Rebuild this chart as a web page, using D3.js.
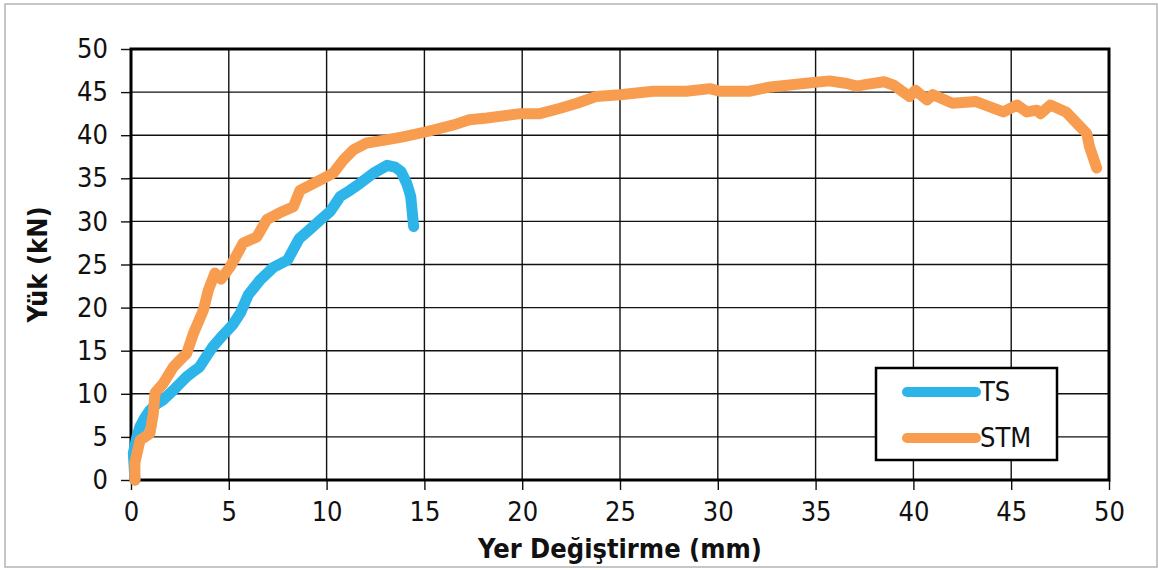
<!DOCTYPE html>
<html>
<head>
<meta charset="utf-8">
<script src="https://cdn.jsdelivr.net/npm/d3@7"></script>
<style>
  body { margin: 0; background: #fff; }
  text { font-family: "DejaVu Sans Condensed", "DejaVu Sans", sans-serif; }
</style>
</head>
<body>
<div id="chart"></div>
<script>
// Data
const tsDisp = [0.2, 0.12, 0.3, 0.46, 0.7, 0.97, 1.3, 1.65, 2.16, 2.5, 2.85, 3.2, 3.5, 3.9, 4.2, 4.7, 5.2, 5.6, 6.0, 6.6, 7.3, 8.0, 8.6, 9.1, 9.7, 10.2, 10.7, 11.2, 11.7, 12.4, 13.1, 13.5, 13.8, 14.1, 14.3, 14.45];
const tsLoad = [0, 3.1, 5, 6.2, 7.2, 8.1, 8.8, 9.3, 10.4, 11.2, 12.0, 12.6, 13.1, 14.5, 15.5, 16.8, 18.0, 19.4, 21.5, 23.2, 24.7, 25.5, 28.0, 29.0, 30.2, 31.2, 32.9, 33.6, 34.4, 35.6, 36.5, 36.3, 35.8, 34.4, 32.9, 29.4];

const stmDisp = [0.2, 0.2, 0.46, 0.97, 1.14, 1.23, 1.65, 2.16, 2.5, 2.85, 3.19, 3.7, 3.95, 4.29, 4.6, 5.06, 5.74, 6.43, 6.94, 7.6, 8.3, 8.64, 9.66, 10.34, 10.85, 11.37, 12.05, 12.9, 13.9, 15.1, 16.5, 17.3, 18.2, 19.9, 20.9, 21.9, 22.8, 23.8, 25.0, 26.7, 28.4, 29.6, 30.1, 31.6, 32.7, 34.4, 35.7, 36.6, 37.1, 37.6, 38.5, 39.0, 39.8, 40.1, 40.7, 41.0, 42.0, 43.2, 44.6, 45.3, 45.8, 46.3, 46.5, 47.0, 47.8, 48.35, 48.86, 49.0, 49.37];
const stmLoad = [0, 2, 4.6, 5.4, 7.7, 10.1, 11.2, 13.1, 13.9, 14.7, 17.0, 19.7, 22.0, 24.0, 23.3, 24.7, 27.5, 28.2, 30.2, 31.0, 31.7, 33.6, 34.8, 35.6, 37.1, 38.3, 39.1, 39.4, 39.8, 40.4, 41.2, 41.8, 42.0, 42.5, 42.5, 43.1, 43.7, 44.5, 44.7, 45.1, 45.1, 45.4, 45.1, 45.1, 45.6, 46.0, 46.3, 46.0, 45.7, 45.9, 46.2, 45.8, 44.5, 45.2, 44.1, 44.7, 43.7, 43.9, 42.7, 43.5, 42.7, 42.9, 42.5, 43.5, 42.7, 41.4, 40.2, 38.7, 36.2];

const xTicks = [0, 5, 10, 15, 20, 25, 30, 35, 40, 45, 50];
const yTicks = [0, 5, 10, 15, 20, 25, 30, 35, 40, 45, 50];
const seriesNames = ['TS', 'STM'];
const seriesColors = ['#2db4e8', '#f89c4f'];

const width = 1158, height = 570;
const margin = { left: 131, right: 49, top: 49, bottom: 90 };

const svg = d3.select('#chart').append('svg')
    .attr('width', width)
    .attr('height', height);

// outer frame
svg.append('rect')
    .attr('x', 5).attr('y', 4)
    .attr('width', 1152).attr('height', 563)
    .attr('fill', 'none')
    .attr('stroke', '#b4b4b4')
    .attr('stroke-width', 1.5);

const x = d3.scaleLinear().domain([0, 50]).range([margin.left, width - margin.right]);
const y = d3.scaleLinear().domain([0, 50]).range([height - margin.bottom, margin.top]);

// grid
const grid = svg.append('g');
grid.selectAll('.gx')
    .data(xTicks)
    .enter().append('line')
    .attr('x1', d => x(d)).attr('x2', d => x(d))
    .attr('y1', y(50)).attr('y2', y(0))
    .attr('stroke', '#111')
    .attr('stroke-width', 1.4);
grid.selectAll('.gy')
    .data(yTicks)
    .enter().append('line')
    .attr('x1', x(0)).attr('x2', x(50))
    .attr('y1', d => y(d)).attr('y2', d => y(d))
    .attr('stroke', '#111')
    .attr('stroke-width', 1.4);

// axes
const xAxis = svg.append('g')
    .attr('transform', `translate(0,${y(0)})`)
    .call(d3.axisBottom(x).tickValues(xTicks).tickSize(10).tickPadding(12));
const yAxis = svg.append('g')
    .attr('transform', `translate(${x(0)},0)`)
    .call(d3.axisLeft(y).tickValues(yTicks).tickSize(10).tickPadding(13));
[xAxis, yAxis].forEach(a => {
    a.select('.domain').remove();
    a.selectAll('line').attr('stroke', '#111').attr('stroke-width', 1.4);
    a.selectAll('text')
        .attr('fill', '#111')
        .style('font-size', '27px')
        .style('font-family', '"DejaVu Sans Condensed", "DejaVu Sans", sans-serif');
});

// plot border
svg.append('rect')
    .attr('x', x(0)).attr('y', y(50))
    .attr('width', x(50) - x(0)).attr('height', y(0) - y(50))
    .attr('fill', 'none')
    .attr('stroke', '#000')
    .attr('stroke-width', 3);

// curves
const line = d3.line().x(d => x(d[0])).y(d => y(d[1]));
const series = [d3.zip(tsDisp, tsLoad), d3.zip(stmDisp, stmLoad)];
svg.append('g').selectAll('path')
    .data(series)
    .enter().append('path')
    .attr('d', line)
    .attr('fill', 'none')
    .attr('stroke', (d, i) => seriesColors[i])
    .attr('stroke-width', 11)
    .attr('stroke-linecap', 'round')
    .attr('stroke-linejoin', 'round');

// axis titles
svg.append('text')
    .attr('x', (x(0) + x(50)) / 2)
    .attr('y', 558)
    .attr('text-anchor', 'middle')
    .attr('font-weight', 'bold')
    .attr('font-size', 27)
    .attr('fill', '#111')
    .text('Yer Değiştirme (mm)');

svg.append('text')
    .attr('transform', `translate(47,${(y(0) + y(50)) / 2}) rotate(-90)`)
    .attr('text-anchor', 'middle')
    .attr('font-weight', 'bold')
    .attr('font-size', 27)
    .attr('fill', '#111')
    .text('Yük (kN)');

// legend
const legend = svg.append('g');
legend.append('rect')
    .attr('x', 876).attr('y', 368)
    .attr('width', 181).attr('height', 92)
    .attr('fill', '#fff')
    .attr('stroke', '#000')
    .attr('stroke-width', 2.5);
const item = legend.selectAll('.item')
    .data(seriesNames)
    .enter().append('g')
    .attr('transform', (d, i) => `translate(0,${392 + i * 46})`);
item.append('line')
    .attr('x1', 907).attr('x2', 976)
    .attr('stroke', (d, i) => seriesColors[i])
    .attr('stroke-width', 10)
    .attr('stroke-linecap', 'round');
item.append('text')
    .attr('x', 980).attr('y', 9)
    .attr('font-size', 27)
    .attr('fill', '#111')
    .text(d => d);
</script>
</body>
</html>
